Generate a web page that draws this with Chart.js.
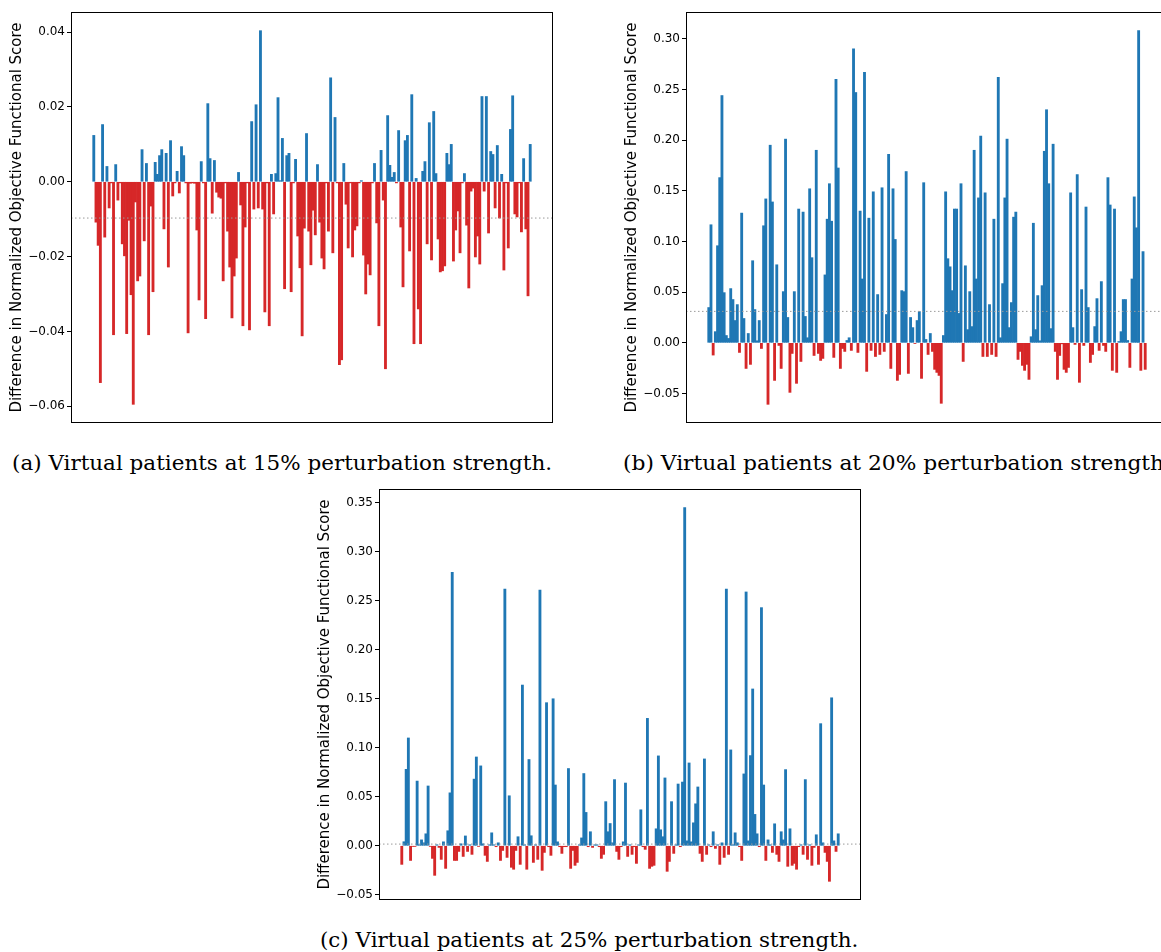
<!DOCTYPE html>
<html>
<head>
<meta charset="utf-8">
<script src="https://cdn.jsdelivr.net/npm/chart.js@4.4.0/dist/chart.umd.min.js"></script>
<style>
html, body { margin: 0; padding: 0; background: #fff; overflow: hidden; width: 1161px; height: 952px; }
.panel { position: absolute; }
.cap { position: absolute; font-family: "DejaVu Serif", serif; font-size: 21px; line-height: 23px; white-space: nowrap; color: #000; transform-origin: 0 50%; }
</style>
</head>
<body>
<canvas id="chartA" class="panel" width="556" height="435" style="left:0px;top:0px"></canvas>
<canvas id="chartB" class="panel" width="556" height="435" style="left:615px;top:0px"></canvas>
<canvas id="chartC" class="panel" width="556" height="435" style="left:308px;top:477px"></canvas>
<div class="cap" data-w="540" style="left:12px;top:452px">(a) Virtual patients at 15% perturbation strength.</div>
<div class="cap" data-w="548" style="left:623px;top:452px">(b) Virtual patients at 20% perturbation strength.</div>
<div class="cap" data-w="538" style="left:320px;top:929px">(c) Virtual patients at 25% perturbation strength.</div>
<script>
// bar values per virtual patient (200 each)
const diff15 = [
  0.0124, -0.0108, -0.017, -0.0537, 0.0153, -0.0148, 0.0041, -0.007, -0.0003, -0.0409, 0.0046, -0.0049, -0.0003, -0.0166, -0.0198, -0.0406, -0.0103, -0.0302, -0.0595, -0.0054,
  -0.0265, -0.0252, 0.0086, -0.0158, 0.0049, -0.0409, -0.0065, -0.0294, 0.0052, 0.002, 0.007, 0.0086, -0.0126, 0.0076, -0.0228, 0.011, -0.0038, -0.0003, 0.0028, -0.003,
  0.0094, 0.007, -0.0003, -0.0404, -0.0004, -0.0003, -0.0004, -0.0129, -0.0316, 0.0054, -0.0003, -0.0366, 0.0209, 0.0062, -0.0084, 0.0057, -0.0028, -0.0041, -0.0044, -0.0265,
  -0.0003, -0.0132, -0.0228, -0.0364, -0.0252, -0.0204, 0.0025, -0.0062, -0.0385, -0.0121, -0.0003, -0.0396, 0.0161, -0.0073, 0.0206, -0.007, 0.0404, -0.0073, -0.0348, -0.0003,
  -0.0385, 0.002, -0.0086, 0.0022, 0.0225, 0.0003, 0.0116, -0.0286, 0.007, 0.0076, -0.0294, -0.0003, 0.006, -0.0145, -0.023, -0.0412, -0.0124, 0.0129, -0.0132, -0.0222,
  -0.0076, -0.0142, 0.0046, -0.0108, -0.0204, -0.0233, -0.0003, -0.0132, 0.0278, -0.019, 0.0172, -0.0003, -0.0489, -0.0476, 0.0049, -0.006, -0.0177, -0.0003, -0.0201, -0.0129,
  -0.0118, -0.0003, 0.0003, -0.0196, -0.03, -0.022, -0.0249, -0.0003, 0.0049, -0.011, -0.0385, 0.0084, -0.0049, -0.05, 0.0177, 0.0044, 0.0012, 0.0025, -0.0003, 0.0137,
  -0.0121, -0.0281, 0.011, 0.0124, -0.0185, 0.0233, -0.0433, 0.0009, -0.034, -0.0433, 0.0028, 0.0054, -0.0166, 0.0158, -0.0209, 0.0188, 0.0022, -0.0153, -0.0241, -0.0238,
  -0.0225, 0.0076, 0.0046, 0.01, -0.0212, -0.0129, -0.0078, -0.019, -0.0003, 0.0022, -0.0116, -0.0284, -0.0025, -0.0017, -0.0201, -0.0145, -0.022, 0.0228, -0.0025, 0.0228,
  -0.0137, 0.0081, 0.0073, -0.007, 0.0097, -0.0097, 0.002, -0.0236, -0.0003, -0.0177, 0.014, 0.023, -0.0086, -0.0094, -0.0003, -0.0134, 0.0062, -0.0126, -0.0305, 0.01
];
const diff20 = [
  0.0348, 0.1165, -0.0121, 0.011, 0.0958, 0.163, 0.244, 0.0495, 0.0072, 0.0043, 0.0535, 0.0427, 0.022, 0.0377, -0.0095, 0.128, 0.024, -0.0253, 0.0092, -0.0213,
  0.081, 0.0328, 0.002, 0.022, -0.0056, 0.1155, 0.142, -0.0607, 0.195, 0.139, -0.0371, 0.077, -0.0026, -0.0253, 0.0505, 0.201, 0.025, -0.0489, -0.0105, 0.0505,
  -0.04, 0.132, -0.0184, 0.129, 0.026, 0.005, 0.152, 0.084, -0.0125, 0.19, -0.0105, -0.0174, -0.0154, 0.067, 0.122, 0.157, 0.12, -0.0144, 0.26, 0.1725,
  -0.0253, -0.0056, -0.0085, 0.0023, 0.005, -0.0075, 0.29, 0.247, -0.0095, 0.13, 0.063, 0.267, -0.0282, 0.123, -0.0075, 0.149, -0.0135, 0.0476, -0.0115, 0.153,
  -0.0085, 0.0279, 0.186, -0.0253, 0.152, 0.102, -0.0371, -0.0312, 0.0515, 0.0505, 0.169, -0.0302, 0.025, 0.015, -0.0007, 0.022, 0.0308, -0.0351, 0.158, 0.0033,
  -0.0115, 0.0092, -0.0085, -0.0262, -0.0292, -0.0322, -0.0597, 0.0072, 0.149, 0.083, 0.075, 0.0515, 0.132, 0.132, 0.029, 0.157, -0.0184, 0.076, 0.013, 0.0505,
  0.016, 0.19, 0.063, 0.143, 0.204, -0.0135, 0.148, -0.0135, 0.0377, -0.0115, 0.122, -0.0135, 0.262, 0.005, 0.0584, 0.143, 0.201, 0.015, 0.0397, 0.124,
  0.129, -0.0164, -0.0085, -0.0223, -0.0272, -0.0213, -0.0361, 0.006, 0.118, 0.013, 0.0466, 0.002, 0.0564, 0.189, 0.23, 0.157, 0.014, 0.196, -0.0085, -0.0361,
  -0.0125, -0.001, -0.0262, -0.0292, -0.0243, 0.148, 0.015, -0.0016, 0.166, -0.039, 0.0525, -0.0026, 0.134, 0.0348, -0.0194, -0.0115, 0.016, 0.0436, -0.0075, 0.0604,
  -0.0026, -0.0085, 0.163, 0.136, -0.0272, 0.132, -0.0292, 0.0013, 0.011, 0.0427, 0.0427, 0.0023, -0.0243, 0.063, 0.144, 0.1135, 0.308, -0.0272, 0.09, -0.0262
];
const diff25 = [
  -0.019, 0.0041, 0.078, 0.11, -0.015, -0.0007, -0.0007, 0.066, 0.001, 0.006, 0.003, 0.0122, 0.061, -0.0007, -0.0129, -0.0302, 0.001, -0.0017, -0.0139, 0.004,
  -0.0231, 0.0153, 0.054, 0.279, -0.015, -0.015, -0.0058, 0.002, -0.0109, 0.01, -0.0058, 0.001, -0.0088, 0.068, 0.0906, -0.0007, 0.0815, 0.002, -0.0098, -0.016,
  0.001, 0.0132, 0.001, -0.001, 0.003, -0.015, -0.0048, 0.262, -0.0119, 0.051, -0.022, -0.024, -0.0048, 0.0092, -0.019, 0.164, 0.001, -0.024, 0.088, 0.0102,
  -0.017, 0.001, -0.0139, 0.261, -0.0251, -0.0068, 0.146, -0.001, -0.0098, 0.15, 0.062, 0.004, -0.001, -0.0078, -0.001, -0.001, 0.0788, -0.0231, -0.0048, -0.02,
  -0.017, 0.001, 0.008, 0.0737, 0.034, -0.001, 0.0143, -0.0017, 0.001, 0.001, -0.001, -0.0129, -0.0088, 0.045, 0.0143, 0.0227, 0.003, 0.0675, -0.0058, -0.0139,
  -0.001, 0.004, 0.064, -0.0109, 0.001, -0.0088, -0.001, -0.018, 0.001, 0.0367, -0.001, -0.0037, 0.13, -0.0231, -0.021, -0.02, 0.0173, 0.0917, 0.0163, 0.0092,
  0.0692, -0.0261, -0.016, 0.045, -0.0078, 0.001, 0.063, -0.001, 0.065, 0.345, 0.005, 0.0845, 0.004, 0.0234, 0.0428, 0.06, -0.0078, -0.016, 0.0886, -0.0088,
  0.001, -0.001, 0.0143, -0.0027, 0.001, -0.019, 0.003, -0.0119, 0.262, -0.0088, 0.0978, 0.001, 0.0132, 0.003, -0.001, -0.015, 0.0733, 0.259, 0.005, 0.092,
  0.16, 0.032, 0.0122, -0.001, 0.243, 0.062, -0.015, 0.006, 0.001, -0.0068, 0.0224, -0.0088, -0.016, 0.0143, 0.006, 0.0777, -0.021, 0.0173, -0.02, -0.018,
  -0.024, -0.001, 0.001, -0.0088, 0.0675, -0.0139, 0.001, -0.02, -0.0017, 0.0112, -0.019, 0.1246, 0.003, -0.0068, -0.016, -0.0363, 0.151, 0.005, -0.0058, 0.0122
];

// dotted reference line of each panel
const mean15 = -0.0097;
const mean20 = 0.031;
const mean25 = 0.0017;

// y tick labels
const ticks15 = [-0.06, -0.04, -0.02, 0.00, 0.02, 0.04];
const ticks20 = [-0.05, 0.00, 0.05, 0.10, 0.15, 0.20, 0.25, 0.30];
const ticks25 = [-0.05, 0.00, 0.05, 0.10, 0.15, 0.20, 0.25, 0.30, 0.35];

const yTitle = "Difference in Normalized Objective Functional Score";
const BLUE = '#1f77b4';
const RED = '#d62728';

Chart.defaults.font.family = "'DejaVu Sans', sans-serif";
Chart.defaults.color = '#000';

// box around the plot area
const framePlugin = {
    id: 'frame',
    afterDraw(chart) {
        const { ctx, chartArea: a } = chart;
        ctx.save();
        ctx.strokeStyle = '#000';
        ctx.lineWidth = 1;
        ctx.strokeRect(Math.round(a.left) + 0.5, Math.round(a.top) + 0.5, Math.round(a.width) - 1, Math.round(a.height) - 1);
        ctx.restore();
    }
};

function fmtTick(v) {
    return v.toFixed(2).replace('-', '\u2212');
}

function drawPanel(id, values, meanValue, yTicks) {
    const lo = Math.min(...values);
    const hi = Math.max(...values);
    const span = hi - lo;
    // same 5% margins as the original plot
    const xLo = -0.4, xHi = values.length - 0.6;
    const xPad = 0.05 * (xHi - xLo);

    new Chart(document.getElementById(id), {
        data: {
            datasets: [
                {
                    type: 'bar',
                    order: 2,
                    data: values.map((v, i) => ({ x: i, y: v })),
                    backgroundColor: values.map(v => v >= 0 ? BLUE : RED),
                    borderWidth: 0,
                    barPercentage: 1,
                    categoryPercentage: 1
                },
                {
                    type: 'line',
                    order: 1,
                    data: [{ x: xLo - xPad, y: meanValue }, { x: xHi + xPad, y: meanValue }],
                    borderColor: '#9a9a9a',
                    borderWidth: 1,
                    borderDash: [1.5, 2.5],
                    pointRadius: 0
                }
            ]
        },
        options: {
            responsive: false,
            animation: false,
            layout: { padding: { left: 0, right: 3, top: 12, bottom: 12 } },
            plugins: { legend: { display: false }, tooltip: { enabled: false } },
            scales: {
                x: { type: 'linear', display: false, offset: false, min: xLo - xPad, max: xHi + xPad },
                y: {
                    min: lo - 0.05 * span,
                    max: hi + 0.05 * span,
                    border: { display: false },
                    grid: { drawOnChartArea: false, drawTicks: true, tickLength: 4, color: '#000' },
                    ticks: { padding: 2, font: { size: 12 }, callback: v => fmtTick(v) },
                    afterBuildTicks: s => { s.ticks = yTicks.map(v => ({ value: v })); },
                    afterFit: s => { s.width = 71; },
                    title: { display: true, text: yTitle, font: { size: 15 }, padding: { top: 8, bottom: 0 } }
                }
            }
        },
        plugins: [framePlugin]
    });
}

drawPanel('chartA', diff15, mean15, ticks15);
drawPanel('chartB', diff20, mean20, ticks20);
drawPanel('chartC', diff25, mean25, ticks25);

// stretch the captions to the width they take in the figure
document.querySelectorAll('.cap').forEach(el => {
    const target = Number(el.dataset.w);
    el.style.transform = 'scaleX(' + (target / el.offsetWidth).toFixed(4) + ')';
});
</script>
</body>
</html>
